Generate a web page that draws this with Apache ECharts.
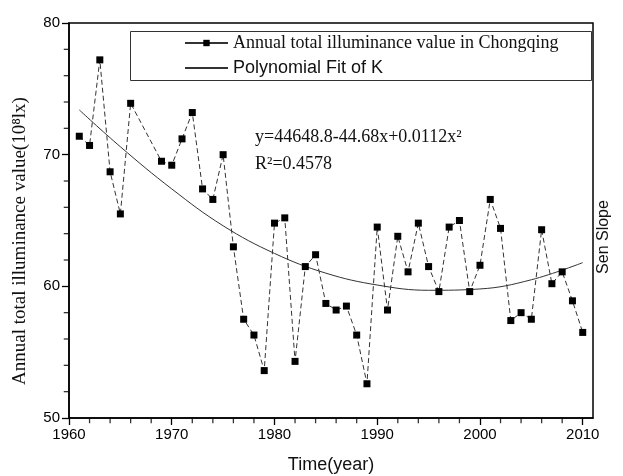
<!DOCTYPE html>
<html>
<head>
<meta charset="utf-8">
<script src="https://cdn.jsdelivr.net/npm/echarts@6/dist/echarts.min.js"></script>
<style>
html,body{margin:0;padding:0;background:#fff;}
#main{width:623px;height:476px;}
</style>
</head>
<body>
<div id="main"></div>
<script>
// 年份与光照总量 (1967, 1968 无数据)
var years = [1961,1962,1963,1964,1965,1966,1969,1970,1971,1972,1973,1974,1975,1976,1977,1978,1979,1980,
  1981,1982,1983,1984,1985,1986,1987,1988,1989,1990,1991,1992,1993,1994,1995,1996,1997,1998,1999,2000,
  2001,2002,2003,2004,2005,2006,2007,2008,2009,2010];
var values = [71.4,70.7,77.2,68.7,65.5,73.9,69.5,69.2,71.2,73.2,67.4,66.6,70.0,63.0,57.5,56.3,53.6,64.8,
  65.2,54.3,61.5,62.4,58.7,58.2,58.5,56.3,52.6,64.5,58.2,63.8,61.1,64.8,61.5,59.6,64.5,65.0,59.6,61.6,
  66.6,64.4,57.4,58.0,57.5,64.3,60.2,61.1,58.9,56.5];
// 拟合曲线
var fitYears = [1961,1965,1970,1975,1980,1985,1990,1995,2000,2005,2010];
var fitValues = [73.4,70.6,67.4,64.6,62.5,61.0,60.1,59.7,59.8,60.5,61.8];
var xTicks = [1960,1970,1980,1990,2000,2010];
var yTicks = [50,60,70,80];
// 小刻度位置
var xMinor = [1962,1964,1966,1968,1972,1974,1976,1978,1982,1984,1986,1988,1992,1994,1996,1998,2002,2004,2006,2008];
var yMinor = [52,54,56,58,62,64,66,68,72,74,76,78];

var name1 = 'Annual total illuminance value in Chongqing';
var name2 = 'Polynomial Fit of K';

var chart = echarts.init(document.getElementById('main'));
var seriesData = [], fitData = [], xMinorData = [], yMinorData = [];
for (var i = 0; i < years.length; i++) seriesData.push([years[i], values[i]]);
for (var j = 0; j < fitYears.length; j++) fitData.push([fitYears[j], fitValues[j]]);
for (var k = 0; k < xMinor.length; k++) xMinorData.push([xMinor[k], yTicks[0]]);
for (var m = 0; m < yMinor.length; m++) yMinorData.push([xTicks[0], yMinor[m]]);

var option = {
  backgroundColor: '#fff',
  animation: false,
  grid: {left: 69, right: 30, top: 23, bottom: 58, show: true, borderColor: '#000', borderWidth: 1.5},
  xAxis: {
    type: 'value', min: xTicks[0], max: 2011, interval: 10,
    axisLine: {onZero: false, lineStyle: {color: '#000', width: 1.5}},
    axisTick: {show: true, inside: false, length: 7, lineStyle: {color: '#000', width: 1.3}},
    splitLine: {show: false},
    axisLabel: {color: '#000', fontSize: 15, fontFamily: 'Liberation Sans', margin: 9, showMaxLabel: false,
      formatter: function (v) { return String(v); }}
  },
  yAxis: {
    type: 'value', min: yTicks[0], max: yTicks[yTicks.length - 1], interval: 10,
    axisLine: {onZero: false, lineStyle: {color: '#000', width: 1.5}},
    axisTick: {show: true, inside: false, length: 7, lineStyle: {color: '#000', width: 1.3}},
    splitLine: {show: false},
    axisLabel: {color: '#000', fontSize: 15, fontFamily: 'Liberation Sans', margin: 9}
  },
  legend: {
    orient: 'vertical', left: 184, top: 34, padding: 0, itemWidth: 43, itemHeight: 8, itemGap: 7,
    data: [
      {name: name1, lineStyle: {type: 'solid'}},
      {name: name2, itemStyle: {opacity: 0}}
    ],
    formatter: function (n) { return n === name1 ? '{a|' + n + '}' : '{b|' + n + '}'; },
    textStyle: {
      color: '#000',
      rich: {
        a: {fontFamily: 'Liberation Serif', fontSize: 18, color: '#111'},
        b: {fontFamily: 'Liberation Sans', fontSize: 18, color: '#111'}
      }
    }
  },
  graphic: [
    {type: 'rect', left: 128, top: 29, shape: {width: 461, height: 49}, style: {fill: 'none', stroke: '#333', lineWidth: 1}, z: 1},
    {type: 'text', left: 255, top: 128, style: {text: 'y=44648.8-44.68x+0.0112x²', font: '18px "Liberation Serif"', fill: '#111'}},
    {type: 'text', left: 255, top: 155, style: {text: 'R²=0.4578', font: '18px "Liberation Serif"', fill: '#111'}},
    {type: 'text', x: 20, y: 241, rotation: Math.PI / 2,
      style: {text: 'Annual total illuminance value(10⁸lx)', font: '19px "Liberation Serif"', fill: '#111', textAlign: 'center', textVerticalAlign: 'middle'}},
    {type: 'text', x: 604, y: 237, rotation: Math.PI / 2,
      style: {text: 'Sen Slope', font: '16px "Liberation Sans"', fill: '#111', textAlign: 'center', textVerticalAlign: 'middle'}},
    {type: 'text', x: 331, y: 465,
      style: {text: 'Time(year)', font: '18px "Liberation Sans"', fill: '#111', textAlign: 'center', textVerticalAlign: 'middle'}}
  ],
  series: [
    {
      name: name1, type: 'line', data: seriesData,
      symbol: 'rect', symbolSize: 7,
      itemStyle: {color: '#000'},
      lineStyle: {color: '#333', width: 1, type: [5, 3]},
      z: 3
    },
    {
      name: name2, type: 'line', data: fitData, smooth: 0.4,
      symbol: 'none',
      itemStyle: {color: '#333'},
      lineStyle: {color: '#333', width: 1},
      z: 2
    },
    // 小刻度
    {
      name: 'xMinor', type: 'scatter', data: xMinorData, silent: true, clip: false,
      symbol: 'rect', symbolSize: [1.3, 4.5], symbolOffset: [0, 3],
      itemStyle: {color: '#000'}, z: 5
    },
    {
      name: 'yMinor', type: 'scatter', data: yMinorData, silent: true, clip: false,
      symbol: 'rect', symbolSize: [4.5, 1.3], symbolOffset: [-3, 0],
      itemStyle: {color: '#000'}, z: 5
    }
  ]
};
chart.setOption(option, true);
</script>
</body>
</html>
